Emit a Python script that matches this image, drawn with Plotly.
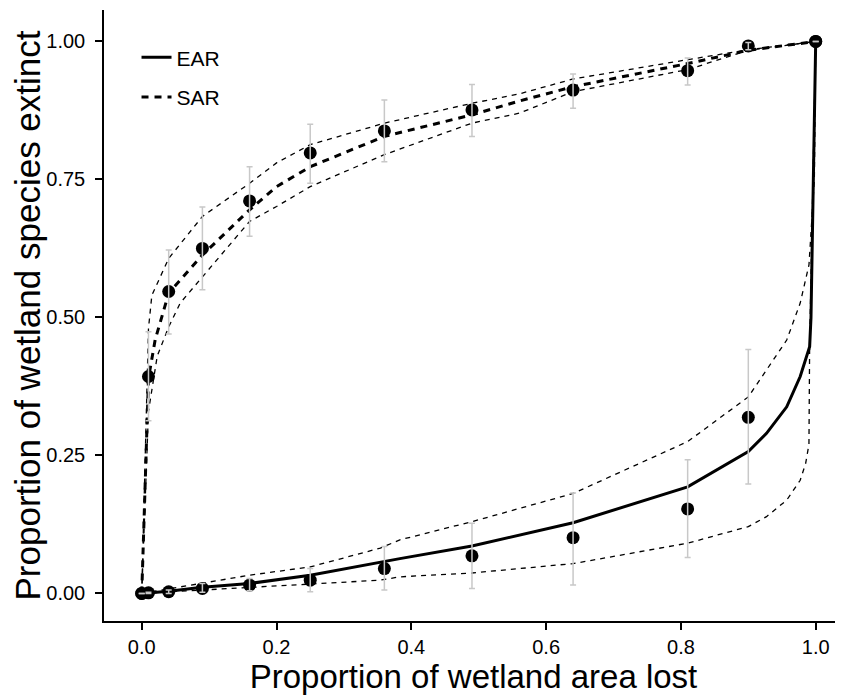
import plotly.graph_objects as go

# ---- observed points ----
area_lost = [0.0, 0.01, 0.04, 0.09, 0.16, 0.25, 0.36, 0.49, 0.64, 0.81, 0.90, 1.0]

ear_pts = [0.0, 0.001, 0.003, 0.009, 0.015, 0.024, 0.045, 0.068, 0.101, 0.153, 0.319, 1.0]
ear_lo = [0.0, 0.0, 0.0, 0.002, 0.005, 0.003, 0.006, 0.009, 0.015, 0.065, 0.198, 1.0]
ear_hi = [0.0, 0.002, 0.006, 0.018, 0.027, 0.045, 0.085, 0.127, 0.182, 0.242, 0.442, 1.0]

sar_pts = [0.0, 0.393, 0.547, 0.625, 0.711, 0.798, 0.838, 0.876, 0.912, 0.947, 0.992, 1.0]
sar_lo = [0.0, 0.313, 0.470, 0.550, 0.647, 0.743, 0.782, 0.828, 0.879, 0.921, 0.985, 1.0]
sar_hi = [0.0, 0.474, 0.622, 0.700, 0.773, 0.850, 0.894, 0.922, 0.941, 0.970, 0.998, 1.0]

# ---- fitted curves ----
ear_fit_x = [0.0, 0.04, 0.09, 0.16, 0.25, 0.354, 0.383, 0.49, 0.64, 0.81, 0.90, 0.927, 0.957, 0.977, 0.991, 0.993, 0.998, 1.0]
ear_fit_y = [0.0, 0.004, 0.011, 0.018, 0.033, 0.057, 0.063, 0.086, 0.128, 0.193, 0.257, 0.290, 0.338, 0.393, 0.447, 0.50, 0.85, 1.0]

ear_up_x = [0.0, 0.09, 0.16, 0.25, 0.354, 0.383, 0.49, 0.64, 0.81, 0.90, 0.927, 0.957, 0.977, 0.99, 0.998, 1.0]
ear_up_y = [0.0, 0.019, 0.033, 0.048, 0.082, 0.097, 0.130, 0.181, 0.275, 0.356, 0.405, 0.459, 0.526, 0.595, 0.75, 1.0]

ear_low_x = [0.0, 0.16, 0.25, 0.354, 0.383, 0.49, 0.64, 0.81, 0.90, 0.927, 0.957, 0.977, 0.985, 0.990, 0.991, 0.995, 1.0]
ear_low_y = [0.0, 0.011, 0.018, 0.024, 0.030, 0.037, 0.054, 0.091, 0.121, 0.139, 0.169, 0.205, 0.235, 0.27, 0.45, 0.70, 1.0]

sar_fit_x = [0.0, 0.01, 0.02, 0.04, 0.09, 0.16, 0.20, 0.25, 0.36, 0.49, 0.56, 0.64, 0.81, 0.90, 1.0]
sar_fit_y = [0.0, 0.39, 0.46, 0.544, 0.613, 0.695, 0.737, 0.773, 0.828, 0.867, 0.892, 0.918, 0.960, 0.984, 1.0]

sar_up_x = [0.0, 0.01, 0.015, 0.04, 0.09, 0.16, 0.20, 0.25, 0.36, 0.49, 0.56, 0.64, 0.81, 0.90, 1.0]
sar_up_y = [0.0, 0.48, 0.54, 0.607, 0.683, 0.743, 0.780, 0.813, 0.852, 0.888, 0.905, 0.932, 0.967, 0.985, 1.0]

sar_low_x = [0.0, 0.01, 0.023, 0.04, 0.057, 0.09, 0.16, 0.20, 0.25, 0.36, 0.49, 0.56, 0.64, 0.81, 0.90, 1.0]
sar_low_y = [0.0, 0.33, 0.43, 0.483, 0.526, 0.574, 0.674, 0.701, 0.737, 0.795, 0.852, 0.870, 0.909, 0.949, 0.984, 1.0]

x_ticks = [0.0, 0.2, 0.4, 0.6, 0.8, 1.0]
x_tick_labels = ["0.0", "0.2", "0.4", "0.6", "0.8", "1.0"]
y_ticks = [0.0, 0.25, 0.5, 0.75, 1.0]
y_tick_labels = ["0.00", "0.25", "0.50", "0.75", "1.00"]

FONT = "Liberation Sans, Arial, sans-serif"
fig = go.Figure()

thin = dict(color="black", width=1.3, dash="5px,5px")
for xs, ys in [(ear_up_x, ear_up_y), (ear_low_x, ear_low_y), (sar_up_x, sar_up_y), (sar_low_x, sar_low_y)]:
    fig.add_trace(go.Scatter(x=xs, y=ys, mode="lines", line=thin, showlegend=False, hoverinfo="skip"))

fig.add_trace(go.Scatter(x=ear_fit_x, y=ear_fit_y, mode="lines", name="EAR",
                         line=dict(color="black", width=3), legend="legend"))
fig.add_trace(go.Scatter(x=sar_fit_x, y=sar_fit_y, mode="lines", name="SAR",
                         line=dict(color="black", width=3, dash="7px,6px"), legend="legend2"))

for ys in [ear_pts, sar_pts]:
    fig.add_trace(go.Scatter(x=area_lost, y=ys, mode="markers", showlegend=False,
                             marker=dict(color="black", size=13), hoverinfo="skip"))

for ys, lo, hi in [(ear_pts, ear_lo, ear_hi), (sar_pts, sar_lo, sar_hi)]:
    fig.add_trace(go.Scatter(
        x=area_lost, y=ys, mode="markers", showlegend=False, hoverinfo="skip",
        marker=dict(color="rgba(0,0,0,0)", size=1),
        error_y=dict(type="data", symmetric=False,
                     array=[h - y for h, y in zip(hi, ys)],
                     arrayminus=[y - l for l, y in zip(lo, ys)],
                     color="#c8c8c8", thickness=1.5, width=3)))

# page body has an 8px default margin: size the figure to fill the window exactly
fig.update_layout(
    width=835, height=687,
    margin=dict(l=96, r=0, t=2, b=74),
    plot_bgcolor="white", paper_bgcolor="white",
    font=dict(family=FONT, color="black"),
    legend=dict(x=0.044, y=0.922, xanchor="left", yanchor="middle",
                font=dict(size=21, family=FONT), bgcolor="rgba(0,0,0,0)"),
    legend2=dict(x=0.044, y=0.857, xanchor="left", yanchor="middle",
                 font=dict(size=21, family=FONT), bgcolor="rgba(0,0,0,0)"),
    xaxis=dict(range=[-0.056, 1.0405], tickvals=x_ticks, ticktext=x_tick_labels,
               showgrid=False, zeroline=False, showline=True, linecolor="black", linewidth=1.5,
               ticks="outside", ticklen=7, tickwidth=1.5, tickcolor="black",
               tickfont=dict(size=20, family=FONT),
               title=dict(text="Proportion of wetland area lost", font=dict(size=33, family=FONT), standoff=0)),
    yaxis=dict(range=[-0.05, 1.057], tickvals=y_ticks, ticktext=y_tick_labels,
               showgrid=False, zeroline=False, showline=True, linecolor="black", linewidth=1.5,
               ticks="outside", ticklen=7, tickwidth=1.5, tickcolor="black",
               tickfont=dict(size=20, family=FONT), ticklabelstandoff=6,
               title=dict(text="Proportion of wetland species extinct", font=dict(size=35, family=FONT), standoff=2)),
)

fig.write_html("out.html")
